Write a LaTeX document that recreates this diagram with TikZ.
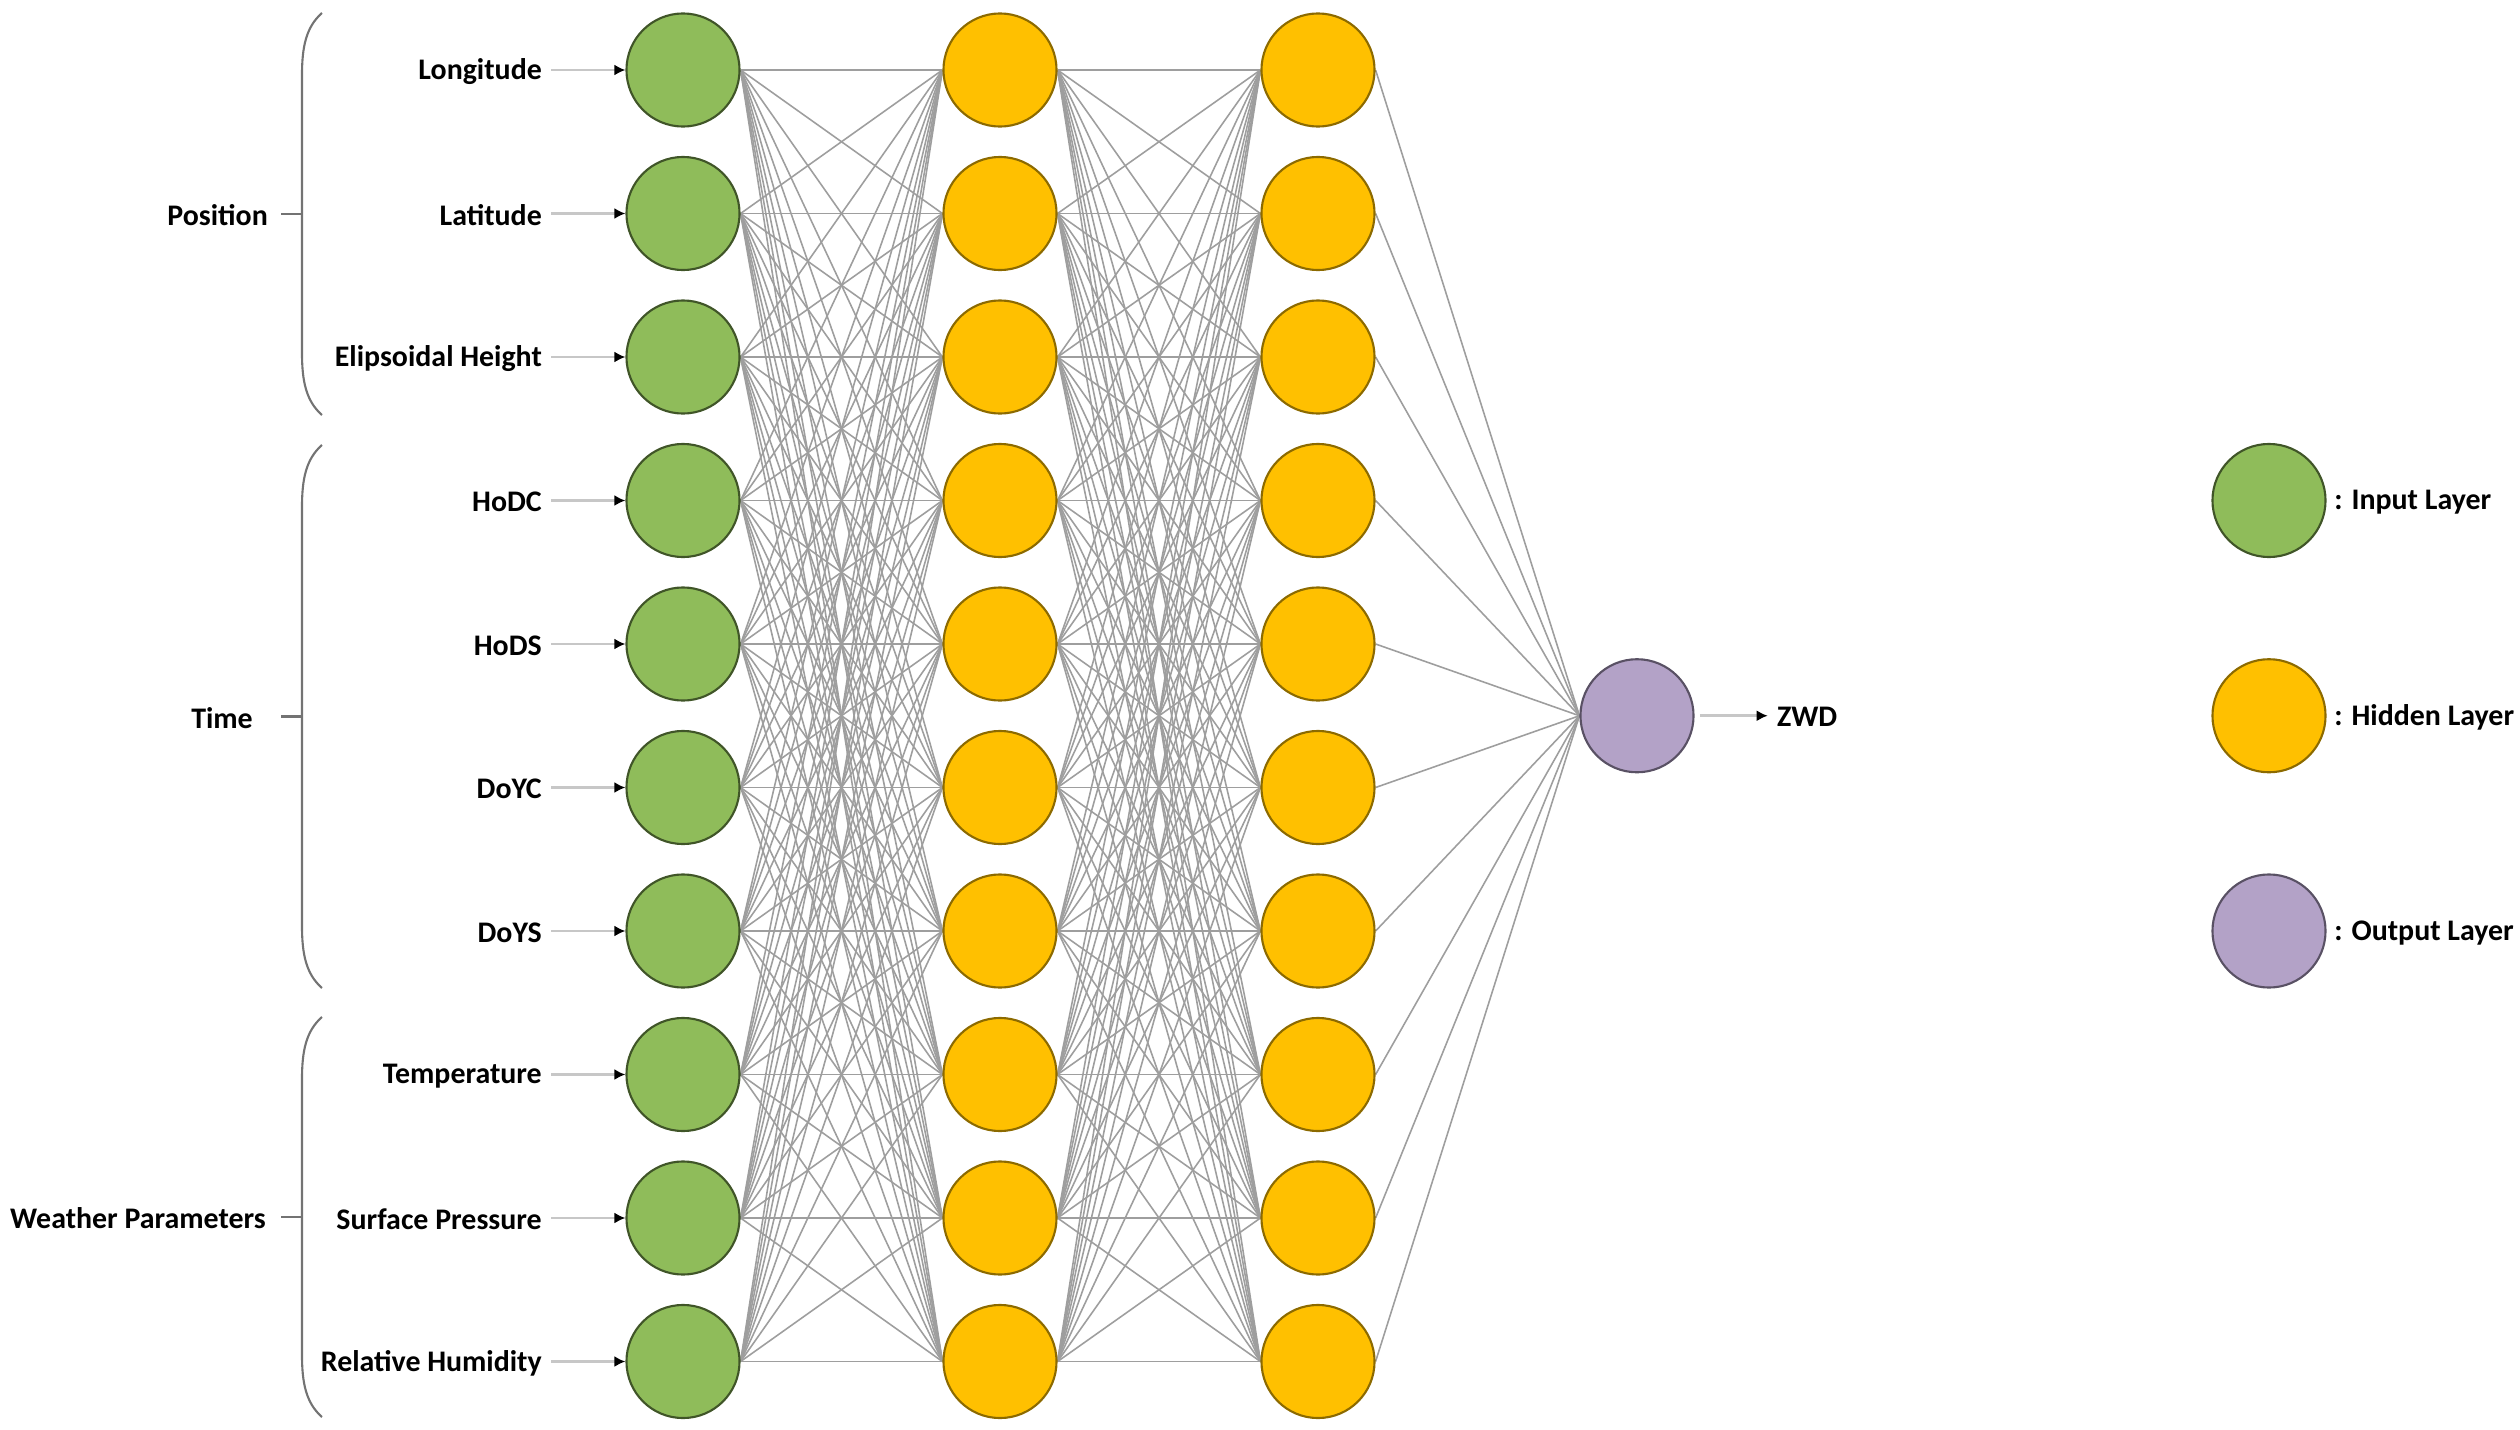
\documentclass[tikz,border=0pt]{standalone}
\usepackage{fontspec}
\setmainfont{Carlito}
\usetikzlibrary{arrows.meta, positioning, calc, backgrounds}

\definecolor{inGreen}{HTML}{8FBC5A}
\definecolor{hidGold}{HTML}{FFC000}
\definecolor{outPurple}{HTML}{B3A2C7}

\tikzset{
    neuron/.style={circle, minimum size=1.13cm, inner sep=0pt, line width=0.6pt},
    inputN/.style={neuron, fill=inGreen, draw=inGreen!45!black},
    hiddenN/.style={neuron, fill=hidGold, draw=hidGold!55!black},
    outputN/.style={neuron, fill=outPurple, draw=outPurple!50!black},
    link/.style={draw=black!38, line width=0.45pt},
    feed/.style={draw=black!22, line width=0.8pt, shorten <=1.5pt,
        -{Latex[length=1.1mm,width=1.1mm,black]}},
    lbl/.style={font=\bfseries\fontsize{8.5}{10}\selectfont, inner sep=1pt},
    brace/.style={draw=black!55, line width=0.6pt}
}

\begin{document}
\begin{tikzpicture}[x=0.01cm, y=-0.01cm]
    \useasboundingbox (0,0) rectangle (2520,1430);

    % Input layer with its feature labels
    \foreach \lab [count=\i] in {Longitude, Latitude, Elipsoidal Height, HoDC, HoDS,
        DoYC, DoYS, Temperature, Surface Pressure, Relative Humidity} {
        \node[inputN] (In\i) at (683, {70+(\i-1)*143.5}) {};
        \node[lbl, anchor=east] (L\i) at (546, {71.5+(\i-1)*143.5}) {\lab};
        \draw[feed] (L\i.east |- In\i) -- (In\i.west);
    }

    % Two hidden layers
    \foreach \i in {1,...,10} {
        \node[hiddenN] (Ha\i) at (1000, {70+(\i-1)*143.5}) {};
        \node[hiddenN] (Hb\i) at (1318, {70+(\i-1)*143.5}) {};
    }

    % Output neuron
    \node[outputN] (Out) at (1637, 715.75) {};
    \node[lbl, anchor=west] (ZWD) at (1773, 717) {ZWD};
    \draw[feed] (Out.east) -- (ZWD.west |- Out) [shorten >=1.5pt];

    % Fully connected links, behind the neurons
    \begin{scope}[on background layer]
        \foreach \i in {1,...,10} {
            \foreach \j in {1,...,10} {
                \draw[link] (In\i.east) -- (Ha\j.west);
                \draw[link] (Ha\i.east) -- (Hb\j.west);
            }
            \draw[link] (Hb\i.east) -- (Out.west);
        }
    \end{scope}

    % Group brackets on the left
    \foreach \grp/\top/\bot/\lx [count=\g] in {Position/13/415/272, Time/445/988/257,
        Weather Parameters/1017/1417/270} {
        \draw[brace] (322,\top) .. controls (306,\top+14) and (302,\top+34) .. (302,\top+62)
            -- (302,\bot-62) .. controls (302,\bot-34) and (306,\bot-14) .. (322,\bot);
        \coordinate (B\g) at (302, {(\top+\bot)/2});
        \node[lbl, anchor=east] (G\g) at (\lx, {(\top+\bot)/2+1.5}) {\grp};
        \draw[brace] (B\g) -- ++(-21,0);
    }

    % Legend
    \foreach \sty/\txt [count=\k] in {inputN/Input Layer, hiddenN/Hidden Layer,
        outputN/Output Layer} {
        \node[\sty] (Key\k) at (2269, {500.5+(\k-1)*215.25}) {};
        \node[lbl, right=1pt of Key\k, yshift=-0.5pt] (KeyL\k) {: \txt};
    }
\end{tikzpicture}
\end{document}
